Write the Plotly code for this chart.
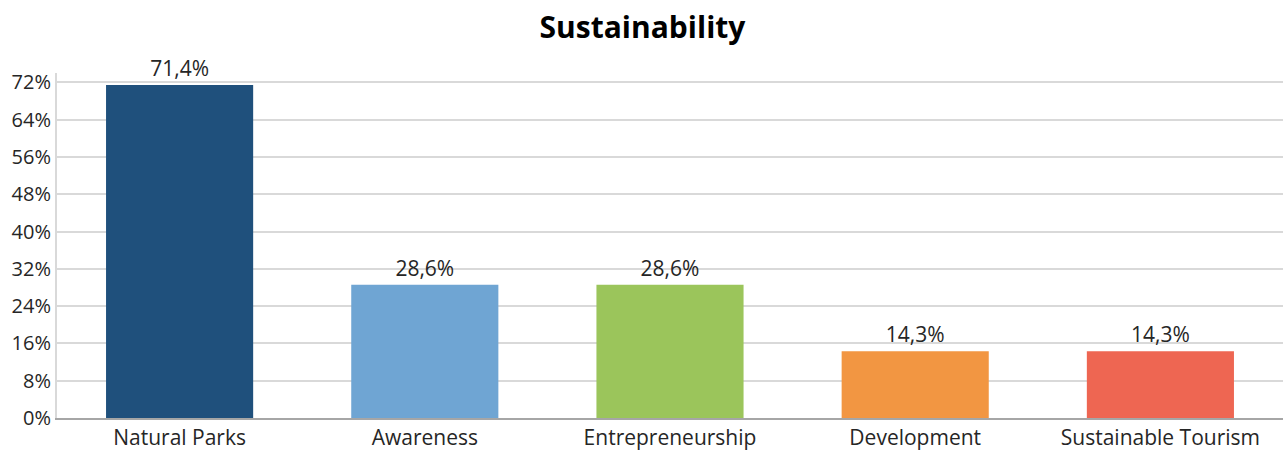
import plotly.graph_objects as go

# Share of responses per sustainability topic (percent)
categories = ["Natural Parks", "Awareness", "Entrepreneurship", "Development", "Sustainable Tourism"]
values = [71.4, 28.6, 28.6, 14.3, 14.3]
bar_colors = ["#1f507c", "#6fa5d3", "#9bc55b", "#f29642", "#ee6652"]
y_ticks = [0, 8, 16, 24, 32, 40, 48, 56, 64, 72]

FONT = "Open Sans, Noto Sans, sans-serif"

fig = go.Figure(
    go.Bar(
        x=categories,
        y=values,
        marker=dict(color=bar_colors, line=dict(width=0)),
        texttemplate="%{y:.1f}%",
        textposition="outside",
        textfont=dict(family=FONT, size=21, color="#262626"),
        cliponaxis=False,
        hoverinfo="skip",
    )
)

fig.update_layout(
    width=1285,
    height=450,
    separators=",.",
    paper_bgcolor="white",
    plot_bgcolor="white",
    margin=dict(l=57, r=2, t=73, b=32),
    bargap=0.4,
    showlegend=False,
    font=dict(family=FONT, size=21, color="#262626"),
    title=dict(
        text="<b>Sustainability</b>",
        x=0.5,
        xanchor="center",
        y=0.94,
        yanchor="middle",
        font=dict(family=FONT, size=30, color="#000000"),
    ),
)

fig.update_yaxes(
    range=[0, 74],
    tickvals=y_ticks,
    ticktext=[f"{v}%" for v in y_ticks],
    showgrid=True,
    gridcolor="#d9d9d9",
    gridwidth=2,
    showline=True,
    linecolor="#d9d9d9",
    linewidth=2,
    zeroline=False,
    ticks="",
    automargin=False,
    tickfont=dict(family=FONT, size=20, color="#262626"),
)

fig.update_xaxes(
    showline=True,
    linecolor="#a6a6a6",
    linewidth=2,
    showgrid=False,
    ticks="",
    automargin=False,
    tickfont=dict(family=FONT, size=21, color="#262626"),
)

fig.write_html("out.html")
